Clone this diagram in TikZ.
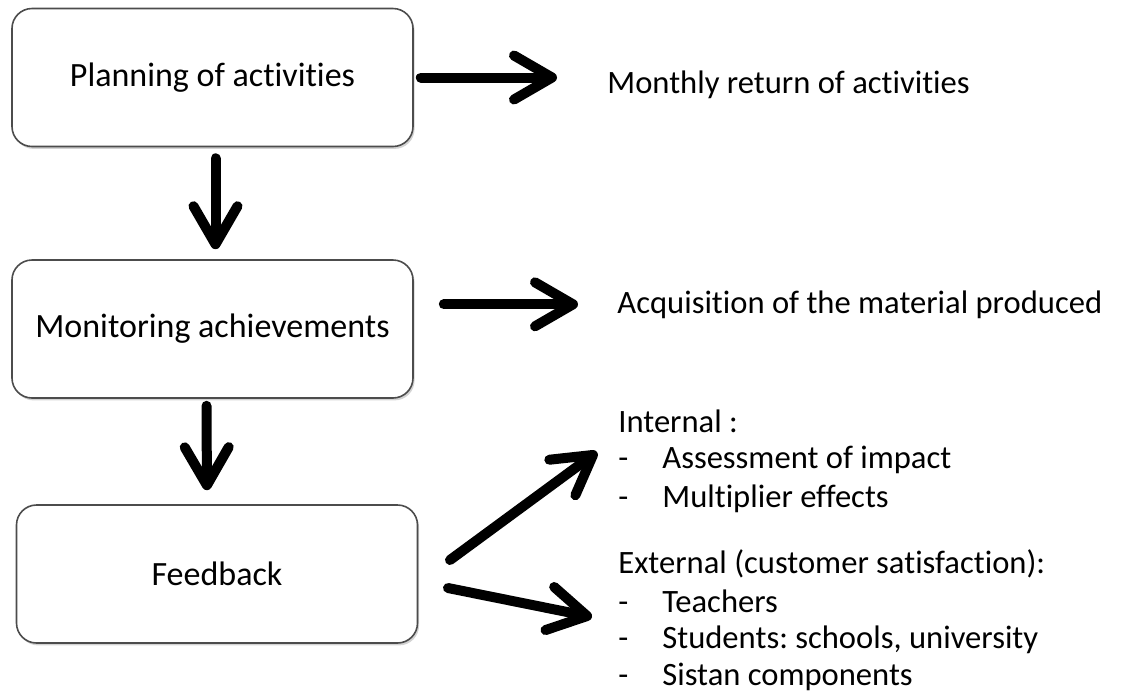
\documentclass[tikz,border=0pt]{standalone}
\usepackage{fontspec}
\setmainfont{Carlito}[Ligatures=NoCommon]
\usepackage{tikz}
\usetikzlibrary{arrows.meta, shadows}
\frenchspacing

\begin{document}
\begin{tikzpicture}[x=0.5pt, y=-0.5pt,
            box/.style={draw=black!70, line width=0.8pt, rectangle, rounded corners=10pt, fill=white,
                        minimum width=200.5pt, minimum height=69pt, align=center, font=\fontsize{17}{20}\selectfont,
                        drop shadow={shadow xshift=0.8pt, shadow yshift=-1.2pt, opacity=0.35}},
            lbl/.style={anchor=base west, inner sep=0pt, font=\fontsize{16.3}{19}\selectfont},
            pipe/.style={line width=5pt, line cap=round, -{Straight Barb[length=19pt, width=22pt, round]}}]

            \useasboundingbox (0,0) rectangle (1135,693);

            % stages
            \node[box] (plan) at (212.5,77.5) {Planning of activities};
            \node[box] (mon) at (212.5,329) {Monitoring achievements};
            \node[box] (fb) at (217,574) {Feedback};

            % outcomes
            \node[lbl] (ret) at (607,93) {Monthly return of activities};
            \node[lbl] (acq) at (617,313) {Acquisition of the material produced};

            \node[lbl] (int) at (618,432) {Internal :};
            \node[lbl] (int1) at (618,468) {\makebox[22pt][l]{-}Assessment of impact};
            \node[lbl] (int2) at (618,507) {\makebox[22pt][l]{-}Multiplier effects};

            \node[lbl] (ext) at (618,573) {External (customer satisfaction):};
            \node[lbl] (ext1) at (618,612) {\makebox[22pt][l]{-}Teachers};
            \node[lbl] (ext2) at (618,648) {\makebox[22pt][l]{-}Students: schools, university};
            \node[lbl] (ext3) at (618,685) {\makebox[22pt][l]{-}Sistan components};

            % free ends of the slanted arrows
            \coordinate (up-s) at (450,560);
            \coordinate (up-e) at (597,452);
            \coordinate (dn-s) at (448,588);
            \coordinate (dn-e) at (592,617);

            % arrows
            \draw[pipe, shorten <=3.5pt, shorten >=25pt] (plan.east) -- (plan.east -| ret.west);
            \draw[pipe, shorten <=15pt, shorten >=19.5pt] (mon.east |- acq.west) -- (acq.west);
            \draw[pipe, shorten <=5.5pt, shorten >=5pt] ([xshift=1.5pt]plan.south) -- ([xshift=1.5pt]mon.north);
            \draw[pipe, shorten <=3.5pt, shorten >=7pt] ([xshift=-3pt]mon.south) -- ([xshift=-5pt]fb.north);
            \draw[pipe] (up-s) -- (up-e);
            \draw[pipe] (dn-s) -- (dn-e);
        \end{tikzpicture}
\end{document}
